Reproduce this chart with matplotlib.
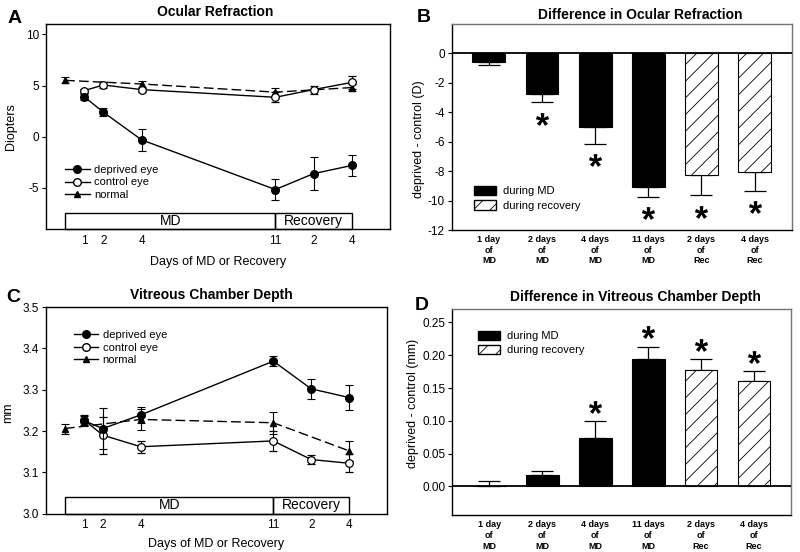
import matplotlib
matplotlib.use("Agg")
import matplotlib.pyplot as plt
import matplotlib.transforms as mtransforms
from matplotlib.patches import Rectangle, Patch
from matplotlib.lines import Line2D
from matplotlib.textpath import TextPath
from matplotlib.font_manager import FontProperties
from matplotlib.path import Path
import numpy as np

plt.rcParams['font.family'] = ['Liberation Sans', 'DejaVu Sans']
plt.rcParams['axes.unicode_minus'] = False
plt.rcParams['hatch.linewidth'] = 0.6

# ---------------- data ----------------
# x positions (days): MD days 1,2,4,11 ; recovery days 2,4 plotted at 13,15
days_dep = [1, 2, 4, 11, 13, 15]
days_normal = [0, 4, 11, 15]
xtick_pos = [1, 2, 4, 11, 13, 15]
xtick_labels = ["1", "2", "4", "11", "2", "4"]

# Panel A: ocular refraction (D)
refr_dep = [3.9, 2.4, -0.3, -5.15, -3.6, -2.8]
refr_dep_err = [0.3, 0.4, 1.1, 1.05, 1.6, 1.0]
refr_ctl = [4.5, 5.05, 4.6, 3.85, 4.6, 5.3]
refr_ctl_err = [0.2, 0.3, 0.2, 0.5, 0.4, 0.6]
refr_norm = [5.5, 5.15, 4.35, 4.8]
refr_norm_err = [0.3, 0.3, 0.4, 0.3]

# Panel C: vitreous chamber depth (mm)
vcd_dep = [3.225, 3.206, 3.239, 3.369, 3.302, 3.281]
vcd_dep_err = [0.012, 0.05, 0.02, 0.012, 0.024, 0.03]
vcd_ctl = [3.227, 3.19, 3.162, 3.176, 3.131, 3.122]
vcd_ctl_err = [0.012, 0.045, 0.015, 0.025, 0.01, 0.022]
vcd_norm = [3.206, 3.228, 3.22, 3.152]
vcd_norm_err = [0.012, 0.025, 0.027, 0.025]

# Panels B & D: differences
bar_labels = ["1 day\nof\nMD", "2 days\nof\nMD", "4 days\nof\nMD",
              "11 days\nof\nMD", "2 days\nof\nRec", "4 days\nof\nRec"]
recovery = [False, False, False, False, True, True]
diff_refr = [-0.61, -2.78, -4.98, -9.1, -8.29, -8.08]
diff_refr_err = [0.19, 0.55, 1.18, 0.64, 1.36, 1.25]
diff_refr_sig = [False, True, True, True, True, True]
diff_vcd = [0.0, 0.0173, 0.074, 0.194, 0.177, 0.161]
diff_vcd_err = [0.0076, 0.0066, 0.025, 0.019, 0.017, 0.015]
diff_vcd_sig = [False, False, True, True, True, True]

FS = 8.5

# asterisk marker built from the bold font glyph, centred on its own bbox
_tp = TextPath((0, 0), "*", prop=FontProperties(family='Liberation Sans',
                                                 weight='bold'), size=10)
_polys = _tp.to_polygons()
_allpts = np.concatenate(_polys)
_c = (_allpts.min(axis=0) + _allpts.max(axis=0)) / 2
_verts, _codes = [], []
for _p in _polys:
    _p = _p - _c
    _verts.extend(_p.tolist())
    _codes.extend([Path.MOVETO] + [Path.LINETO] * (len(_p) - 2) + [Path.CLOSEPOLY])
STAR = Path(np.array(_verts), _codes)

fig = plt.figure(figsize=(8, 5.52), dpi=100)

axA = fig.add_axes([46/800, 1-229/552, 344/800, 205/552])
axB = fig.add_axes([451.7/800, 1-230/552, 340/800, 206/552])
axC = fig.add_axes([46/800, 1-513.7/552, 341/800, 206.7/552])
axD = fig.add_axes([452.3/800, 1-515.3/552, 338.7/800, 206/552])


def line_panel(ax, dep, dep_e, ctl, ctl_e, nrm, nrm_e, ylim, yticks, yfmt,
               ylabel, legend_loc, legend_anchor, xlabelpad):
    ax.set_xlim(-1, 17)
    ax.set_ylim(*ylim)
    ekw = dict(capsize=3, elinewidth=0.8, capthick=0.8, ecolor='black')
    ax.errorbar(days_normal, nrm, yerr=nrm_e, color='black', lw=1.0,
                ls=(0, (7, 3)), marker='^', ms=4.5, mfc='black', mec='black',
                **ekw, zorder=3, label='normal')
    ax.errorbar(days_dep, ctl, yerr=ctl_e, color='black', lw=1.0, marker='o',
                ms=5.5, mfc='white', mec='black', mew=0.9, **ekw, zorder=4,
                label='control eye')
    ax.errorbar(days_dep, dep, yerr=dep_e, color='black', lw=1.0, marker='o',
                ms=5.5, mfc='black', mec='black', **ekw, zorder=5,
                label='deprived eye')
    trans = mtransforms.blended_transform_factory(ax.transData, ax.transAxes)
    ax.add_patch(Rectangle((0, 0), 11, 0.08, transform=trans, fill=False,
                           ec='black', lw=1.0, zorder=2, clip_on=False))
    ax.add_patch(Rectangle((11, 0), 4, 0.08, transform=trans, fill=False,
                           ec='black', lw=1.0, zorder=2, clip_on=False))
    ax.text(5.5, 0.04, "MD", transform=trans, ha='center', va='center', fontsize=10)
    ax.text(13, 0.04, "Recovery", transform=trans, ha='center', va='center', fontsize=10)
    ax.set_xticks(xtick_pos)
    ax.set_xticklabels(xtick_labels, fontsize=FS)
    ax.tick_params(axis='x', length=0, pad=4)
    ax.set_yticks(yticks)
    ax.set_yticklabels([yfmt.format(v) for v in yticks], fontsize=FS)
    ax.tick_params(axis='y', direction='out', length=3, width=0.8, pad=2)
    ax.set_xlabel("Days of MD or Recovery", fontsize=9, labelpad=xlabelpad)
    ax.set_ylabel(ylabel, fontsize=9)
    for s in ax.spines.values():
        s.set_linewidth(1.0)
    h = [Line2D([], [], color='black', lw=1.0, marker='o', ms=5.5, mfc='black'),
         Line2D([], [], color='black', lw=1.0, marker='o', ms=5.5, mfc='white'),
         Line2D([], [], color='black', lw=1.0, marker='^', ms=4.5, mfc='black')]
    ax.legend(h, ['deprived eye', 'control eye', 'normal'], loc=legend_loc,
              bbox_to_anchor=legend_anchor, frameon=False, fontsize=8,
              handlelength=2.2, labelspacing=0.2, handletextpad=0.4,
              borderpad=0.3)


line_panel(axA, refr_dep, refr_dep_err, refr_ctl, refr_ctl_err, refr_norm,
           refr_norm_err, (-9, 11), [-5, 0, 5, 10], "{:g}", "Diopters",
           'lower left', (0.03, 0.10), 7)
axA.yaxis.set_label_coords(-0.084, 0.5)

line_panel(axC, vcd_dep, vcd_dep_err, vcd_ctl, vcd_ctl_err, vcd_norm,
           vcd_norm_err, (3.0, 3.5), [3.0, 3.1, 3.2, 3.3, 3.4, 3.5], "{:.1f}",
           "mm", 'upper left', (0.055, 0.93), 5)
axC.yaxis.set_label_coords(-0.094, 0.49)


def bar_panel(ax, vals, errs, sig, ylim, yticks, yfmt, ylabel, star_off,
              legend_loc, legend_anchor):
    x = np.arange(1, len(vals) + 1)
    ax.set_xlim(0.3, 6.7)
    ax.set_ylim(*ylim)
    for xi, v, e, rec in zip(x, vals, errs, recovery):
        if rec:
            ax.bar(xi, v, width=0.62, color='white', edgecolor='black',
                   hatch='//', lw=0.8, zorder=2)
        else:
            ax.bar(xi, v, width=0.62, color='black', edgecolor='black',
                   lw=0.8, zorder=2)
        if v < 0:
            yerr = [[e], [0]]
        else:
            yerr = [[0], [e]]
        ax.errorbar(xi, v, yerr=yerr, fmt='none', ecolor='black',
                    elinewidth=0.9, capsize=8, capthick=0.9, zorder=1)
    for xi, v, e, s in zip(x, vals, errs, sig):
        if s:
            yy = v - e - star_off if v < 0 else v + e + star_off
            ax.plot(xi, yy, marker=STAR, ms=9.5, mew=0, color='black',
                    ls='none', zorder=4)
    ax.axhline(0, color='black', lw=1.3, zorder=3)
    ax.set_xticks(x)
    ax.set_xticklabels(bar_labels, fontsize=6.5, fontweight='bold',
                       linespacing=1.25, va='top')
    ax.tick_params(axis='x', length=0, pad=3.5)
    ax.set_yticks(yticks)
    ax.set_yticklabels([yfmt.format(v) for v in yticks], fontsize=FS)
    ax.tick_params(axis='y', direction='out', length=3, width=0.8, pad=2)
    ax.set_ylabel(ylabel, fontsize=9)
    for k, s in ax.spines.items():
        s.set_linewidth(1.0)
        if k in ('top', 'right'):
            s.set_color('0.45')
    h = [Patch(facecolor='black', edgecolor='black'),
         Patch(facecolor='white', edgecolor='black', hatch='//')]
    ax.legend(h, ['during MD', 'during recovery'], loc=legend_loc,
              bbox_to_anchor=legend_anchor, frameon=False, fontsize=8,
              handlelength=2.0, handleheight=0.9, labelspacing=0.35,
              handletextpad=0.6, borderpad=0.3)


bar_panel(axB, diff_refr, diff_refr_err, diff_refr_sig, (-12, 2),
          [-12, -10, -8, -6, -4, -2, 0], "{:g}", "deprived - control (D)",
          1.1, 'lower left', (0.04, 0.05))
axB.yaxis.set_label_coords(-0.0785, 0.44)

bar_panel(axD, diff_vcd, diff_vcd_err, diff_vcd_sig, (-0.044, 0.27),
          [0.0, 0.05, 0.10, 0.15, 0.20, 0.25], "{:.2f}",
          "deprived - control (mm)", 0.022, 'upper left', (0.05, 0.94))
axD.yaxis.set_label_coords(-0.098, 0.543)

# titles
axA.text(0.491, 1 + 11.7/205, "Ocular Refraction", transform=axA.transAxes,
         ha='center', va='center', fontsize=10, fontweight='bold')
axB.text(0.556, 1 + 9/206, "Difference in Ocular Refraction",
         transform=axB.transAxes, ha='center', va='center', fontsize=10,
         fontweight='bold')
axC.text(0.484, 1 + 11.7/206.7, "Vitreous Chamber Depth",
         transform=axC.transAxes, ha='center', va='center', fontsize=10,
         fontweight='bold')
axD.text(0.542, 1 + 12.3/206, "Difference in Vitreous Chamber Depth",
         transform=axD.transAxes, ha='center', va='center', fontsize=10,
         fontweight='bold')

# panel letters
for lab, (px, py) in {"A": (15, 18.5), "B": (424, 18), "C": (13, 298),
                      "D": (421.5, 306)}.items():
    fig.text(px/800, 1 - py/552, lab, ha='center', va='center', fontsize=14,
             fontweight='bold')

fig.savefig("out.png", dpi=100)
